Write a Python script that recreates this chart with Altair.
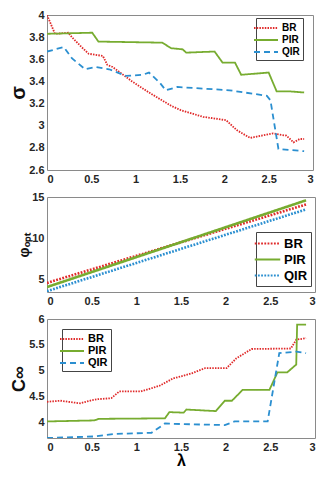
import altair as alt
import pandas as pd

series = ["BR", "PIR", "QIR"]
colors = ["#e02a2a", "#77ac30", "#2b8fd0"]

# Panel 1: sigma vs lambda
x1_br = [0, 0.09, 0.24, 0.28, 0.39, 0.47, 0.63, 0.68, 0.74, 0.96, 1.15, 1.40, 1.51, 1.76, 2.02, 2.14, 2.29, 2.55, 2.70, 2.78, 2.85, 2.90]
y1_br = [4.0, 3.83, 3.84, 3.80, 3.71, 3.65, 3.63, 3.55, 3.53, 3.40, 3.30, 3.18, 3.14, 3.08, 3.05, 2.96, 2.89, 2.93, 2.91, 2.85, 2.88, 2.88]
x1_pir = [0, 0.51, 0.58, 1.30, 1.40, 1.53, 1.57, 1.89, 1.98, 2.12, 2.19, 2.50, 2.59, 2.74, 2.90]
y1_pir = [3.83, 3.84, 3.76, 3.75, 3.70, 3.69, 3.66, 3.67, 3.57, 3.57, 3.46, 3.48, 3.31, 3.31, 3.30]
x1_qir = [0, 0.19, 0.28, 0.43, 0.55, 0.70, 0.89, 1.08, 1.15, 1.27, 1.34, 1.47, 2.06, 2.48, 2.52, 2.61, 2.90]
y1_qir = [3.67, 3.71, 3.61, 3.51, 3.53, 3.51, 3.45, 3.46, 3.48, 3.39, 3.32, 3.35, 3.32, 3.27, 3.23, 2.79, 2.77]

# Panel 2: phi_opt vs lambda
x2_br = [0, 2.9]
y2_br = [4.6, 14.1]
x2_pir = [0, 2.9]
y2_pir = [4.1, 14.6]
x2_qir = [0, 2.9]
y2_qir = [3.6, 13.5]

# Panel 3: C_inf vs lambda
x3_br = [0, 0.15, 0.37, 0.5, 0.57, 0.72, 0.81, 1.05, 1.26, 1.41, 1.56, 1.62, 1.77, 2.01, 2.12, 2.29, 2.73, 2.79, 2.90]
y3_br = [4.40, 4.42, 4.37, 4.43, 4.45, 4.47, 4.60, 4.60, 4.71, 4.85, 4.92, 4.95, 5.05, 5.05, 5.24, 5.42, 5.43, 5.60, 5.63]
x3_pir = [0, 0.53, 0.58, 1.32, 1.37, 1.53, 1.56, 1.89, 1.99, 2.07, 2.19, 2.49, 2.58, 2.69, 2.79, 2.80, 2.90]
y3_pir = [4.02, 4.04, 4.07, 4.08, 4.20, 4.19, 4.25, 4.22, 4.42, 4.42, 4.63, 4.63, 4.97, 4.97, 5.12, 5.89, 5.89]
x3_qir = [0, 0.53, 0.77, 1.17, 1.32, 1.50, 1.99, 2.10, 2.47, 2.60, 2.79, 2.90]
y3_qir = [3.70, 3.73, 3.78, 3.80, 3.98, 3.97, 3.95, 4.02, 4.02, 5.34, 5.37, 5.34]

x_ticks = [0, 0.5, 1, 1.5, 2, 2.5, 3]


def frame(xs_list, ys_list):
    rows = []
    for s, xs, ys in zip(series, xs_list, ys_list):
        for i, (a, b) in enumerate(zip(xs, ys)):
            rows.append({"x": a, "y": b, "s": s, "i": i})
    return pd.DataFrame(rows)


FONT = "Liberation Sans"


def panel(df, ydom, yticks, ytitle, ytitle_size, dashes, width, height, sw,
          lx, ly, lsize, symsize, sympath, loff, xtitle=None):
    xaxis = alt.Axis(values=x_ticks, format=".1~f", grid=False, ticks=False, domain=False,
                     labelFont=FONT, labelFontWeight="bold", labelFontSize=11,
                     labelColor="#262626", labelPadding=3,
                     title=xtitle, titleFont=FONT, titleFontSize=16, titleFontWeight="bold",
                     titlePadding=0)
    yaxis = alt.Axis(values=yticks, format=".1~f", grid=False, ticks=False, domain=False,
                     labelFont=FONT, labelFontWeight="bold", labelFontSize=11,
                     labelColor="#262626", labelPadding=3, titlePadding=0,
                     title=ytitle, titleFont=FONT, titleFontSize=ytitle_size,
                     titleFontWeight="bold", titleColor="#111")
    legend = alt.Legend(title=None, orient="none", legendX=lx, legendY=ly,
                        symbolType=sympath, symbolSize=symsize, symbolStrokeWidth=2,
                        labelFont=FONT, labelFontWeight="bold", labelFontSize=lsize,
                        labelColor="black", strokeColor="#444", fillColor="white",
                        padding=3, rowPadding=0, labelOffset=loff)
    return alt.Chart(df).mark_line(strokeWidth=sw, clip=True).encode(
        x=alt.X("x:Q", scale=alt.Scale(domain=[0, 3], nice=False), axis=xaxis),
        y=alt.Y("y:Q", scale=alt.Scale(domain=ydom, nice=False, zero=False), axis=yaxis),
        color=alt.Color("s:N", scale=alt.Scale(domain=series, range=colors), legend=legend),
        strokeDash=alt.StrokeDash("s:N", scale=alt.Scale(domain=series, range=dashes), legend=legend),
        order="i:Q",
    ).properties(width=width, height=height)


df1 = frame([x1_br, x1_pir, x1_qir], [y1_br, y1_pir, y1_qir])
df2 = frame([x2_br, x2_pir, x2_qir], [y2_br, y2_pir, y2_qir])
df3 = frame([x3_br, x3_pir, x3_qir], [y3_br, y3_pir, y3_qir])

p1 = panel(df1, [2.6, 4], [2.6, 2.8, 3, 3.2, 3.4, 3.6, 3.8, 4], "σ", 20,
           [[1.5, 1.2], [1, 0], [6, 4]], 266, 155, 1.8, 209, 3, 10, 144,
           "M-2,0H2", 9)
p2 = panel(df2, [3.5, 15], [5, 10, 15], "φₒₚₜ", 14,
           [[1.8, 1.4], [1, 0], [1.8, 1.4]], 268, 95, 2.6, 209, 35, 13, 225,
           "M-1.7,0H1.7", 8)
p3 = panel(df3, [3.7, 6], [4, 4.5, 5, 5.5, 6], "C∞", 18,
           [[1.5, 1.2], [1, 0], [6, 4]], 268, 119, 1.8, 15, 10, 11, 144,
           "M-2,0H2", 9, xtitle="λ")

chart = alt.vconcat(p1, p2, p3, spacing=27, bounds="flush").resolve_scale(
    color="independent", strokeDash="independent", x="independent", y="independent"
).resolve_legend(color="independent", strokeDash="independent").properties(
    padding={"left": 0, "top": 0, "right": 0, "bottom": 0}
).configure_view(stroke="#8a8a8a", strokeWidth=1)

chart.save("out.html", embed_options={"renderer": "svg", "actions": False})
